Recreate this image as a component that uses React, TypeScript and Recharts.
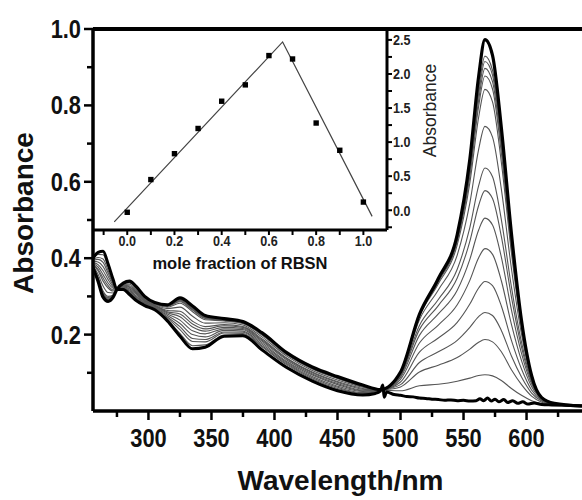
import React from 'react';
import { LineChart, ComposedChart, Line, Scatter, XAxis, YAxis, ReferenceLine } from 'recharts';

// wavelength grid (nm) shared by the titration spectra
const wavelengths = [256, 260, 264, 268, 272, 275, 280, 285, 290, 297, 305, 315, 325, 335, 345, 360, 375, 390, 410, 430, 450, 470, 484, 500, 515, 530, 545, 555, 562, 567, 573, 580, 588, 596, 604, 612, 622, 644];

// final spectrum (thick, highest band at 567 nm)
const finalSpectrum = [0.375, 0.34, 0.298, 0.287, 0.298, 0.318, 0.335, 0.34, 0.327, 0.3, 0.284, 0.278, 0.296, 0.275, 0.25, 0.242, 0.234, 0.205, 0.152, 0.115, 0.09, 0.068, 0.056, 0.102, 0.253, 0.347, 0.462, 0.659, 0.876, 0.972, 0.931, 0.742, 0.465, 0.237, 0.093, 0.035, 0.02, 0.013];

// initial spectrum (thick, no visible band): UV part on the shared grid, noisy visible part on its own grid
const initialUv = [0.4, 0.415, 0.418, 0.385, 0.344, 0.318, 0.318, 0.305, 0.29, 0.276, 0.265, 0.236, 0.196, 0.163, 0.167, 0.196, 0.197, 0.16, 0.113, 0.078, 0.053, 0.042];
const initialVisWl = [480, 484, 486, 487, 489, 495, 500, 505, 510, 515, 520, 525, 530, 535, 540, 545, 550, 555, 560, 563, 566, 569, 572, 575, 578, 582, 585, 589, 593, 597, 601, 606, 612, 620, 630, 644];
const initialVis = [0.046, 0.052, 0.068, 0.036, 0.05, 0.043, 0.041, 0.038, 0.037, 0.034, 0.033, 0.031, 0.03, 0.028, 0.029, 0.027, 0.028, 0.026, 0.027, 0.032, 0.027, 0.034, 0.026, 0.031, 0.024, 0.03, 0.022, 0.027, 0.02, 0.024, 0.018, 0.021, 0.017, 0.016, 0.015, 0.014];

// intermediate spectra (thin grey)
const thinSpectra = [
    [0.398, 0.41, 0.409, 0.378, 0.341, 0.318, 0.319, 0.308, 0.293, 0.278, 0.266, 0.239, 0.203, 0.171, 0.173, 0.199, 0.2, 0.163, 0.116, 0.081, 0.056, 0.044, 0.054, 0.053, 0.066, 0.07, 0.078, 0.086, 0.093, 0.095, 0.092, 0.08, 0.059, 0.041, 0.027, 0.019, 0.016, 0.013],
    [0.396, 0.402, 0.398, 0.368, 0.336, 0.318, 0.321, 0.311, 0.296, 0.28, 0.268, 0.243, 0.213, 0.182, 0.181, 0.204, 0.203, 0.168, 0.12, 0.084, 0.059, 0.046, 0.054, 0.063, 0.102, 0.12, 0.14, 0.162, 0.18, 0.187, 0.181, 0.155, 0.108, 0.069, 0.039, 0.023, 0.016, 0.013],
    [0.394, 0.397, 0.389, 0.361, 0.333, 0.318, 0.322, 0.314, 0.299, 0.282, 0.27, 0.246, 0.221, 0.19, 0.187, 0.207, 0.206, 0.171, 0.123, 0.087, 0.062, 0.048, 0.054, 0.069, 0.127, 0.155, 0.185, 0.219, 0.247, 0.258, 0.25, 0.211, 0.144, 0.089, 0.047, 0.026, 0.017, 0.013],
    [0.392, 0.39, 0.378, 0.353, 0.329, 0.318, 0.324, 0.317, 0.302, 0.284, 0.271, 0.25, 0.229, 0.2, 0.194, 0.211, 0.209, 0.175, 0.126, 0.09, 0.065, 0.051, 0.054, 0.076, 0.154, 0.191, 0.232, 0.28, 0.322, 0.339, 0.328, 0.275, 0.185, 0.11, 0.055, 0.028, 0.017, 0.013],
    [0.389, 0.383, 0.367, 0.344, 0.325, 0.318, 0.325, 0.32, 0.306, 0.286, 0.273, 0.254, 0.238, 0.21, 0.202, 0.215, 0.213, 0.179, 0.129, 0.094, 0.069, 0.053, 0.054, 0.083, 0.178, 0.225, 0.278, 0.342, 0.401, 0.425, 0.41, 0.341, 0.227, 0.132, 0.064, 0.031, 0.018, 0.013],
    [0.387, 0.377, 0.357, 0.335, 0.321, 0.318, 0.327, 0.323, 0.309, 0.288, 0.275, 0.257, 0.247, 0.22, 0.209, 0.219, 0.216, 0.183, 0.133, 0.097, 0.072, 0.055, 0.054, 0.088, 0.198, 0.254, 0.316, 0.397, 0.474, 0.505, 0.487, 0.403, 0.265, 0.151, 0.071, 0.033, 0.019, 0.013],
    [0.385, 0.371, 0.348, 0.328, 0.317, 0.318, 0.328, 0.325, 0.312, 0.29, 0.276, 0.26, 0.254, 0.228, 0.215, 0.223, 0.219, 0.186, 0.136, 0.1, 0.075, 0.057, 0.054, 0.092, 0.213, 0.276, 0.348, 0.444, 0.538, 0.577, 0.556, 0.457, 0.299, 0.167, 0.076, 0.034, 0.019, 0.013],
    [0.384, 0.367, 0.34, 0.322, 0.314, 0.318, 0.329, 0.328, 0.314, 0.292, 0.277, 0.263, 0.261, 0.235, 0.221, 0.226, 0.221, 0.189, 0.138, 0.102, 0.077, 0.059, 0.054, 0.094, 0.224, 0.292, 0.371, 0.48, 0.59, 0.636, 0.613, 0.501, 0.325, 0.18, 0.08, 0.035, 0.019, 0.013],
    [0.381, 0.358, 0.327, 0.31, 0.309, 0.318, 0.331, 0.332, 0.318, 0.294, 0.279, 0.268, 0.272, 0.248, 0.23, 0.231, 0.225, 0.194, 0.143, 0.106, 0.081, 0.062, 0.054, 0.098, 0.239, 0.317, 0.408, 0.544, 0.685, 0.745, 0.717, 0.581, 0.373, 0.201, 0.085, 0.035, 0.019, 0.013],
    [0.378, 0.35, 0.314, 0.3, 0.304, 0.318, 0.333, 0.335, 0.322, 0.297, 0.281, 0.272, 0.282, 0.26, 0.239, 0.236, 0.229, 0.199, 0.147, 0.11, 0.085, 0.064, 0.054, 0.1, 0.248, 0.333, 0.435, 0.597, 0.769, 0.842, 0.809, 0.651, 0.414, 0.217, 0.09, 0.036, 0.02, 0.013],
    [0.377, 0.347, 0.31, 0.297, 0.303, 0.318, 0.333, 0.337, 0.323, 0.298, 0.282, 0.274, 0.286, 0.264, 0.242, 0.237, 0.23, 0.201, 0.148, 0.111, 0.086, 0.065, 0.054, 0.101, 0.25, 0.338, 0.444, 0.614, 0.798, 0.877, 0.843, 0.676, 0.428, 0.223, 0.091, 0.036, 0.02, 0.013],
    [0.377, 0.346, 0.307, 0.295, 0.302, 0.318, 0.334, 0.337, 0.324, 0.298, 0.283, 0.275, 0.288, 0.266, 0.244, 0.238, 0.231, 0.202, 0.149, 0.112, 0.087, 0.066, 0.054, 0.102, 0.251, 0.34, 0.447, 0.624, 0.814, 0.897, 0.862, 0.691, 0.436, 0.226, 0.092, 0.035, 0.02, 0.013],
    [0.376, 0.344, 0.305, 0.293, 0.301, 0.318, 0.334, 0.338, 0.325, 0.299, 0.283, 0.276, 0.29, 0.268, 0.245, 0.239, 0.232, 0.202, 0.15, 0.113, 0.088, 0.066, 0.054, 0.101, 0.252, 0.342, 0.452, 0.633, 0.83, 0.915, 0.879, 0.703, 0.444, 0.229, 0.092, 0.036, 0.02, 0.013],
    [0.376, 0.343, 0.303, 0.291, 0.3, 0.318, 0.334, 0.339, 0.325, 0.299, 0.283, 0.276, 0.292, 0.27, 0.246, 0.24, 0.232, 0.203, 0.15, 0.113, 0.088, 0.067, 0.054, 0.101, 0.252, 0.343, 0.454, 0.639, 0.842, 0.929, 0.892, 0.713, 0.449, 0.231, 0.093, 0.035, 0.02, 0.013],
];

const mainXTicks = [275, 300, 325, 350, 375, 400, 425, 450, 475, 500, 525, 550, 575, 600, 625];
const mainYTicks = [0.1, 0.2, 0.3, 0.4, 0.5, 0.6, 0.7, 0.8, 0.9, 1.0];

// Job's plot inset
const moleFraction = [0, 0.1, 0.2, 0.3, 0.4, 0.5, 0.6, 0.7, 0.8, 0.9, 1.0];
const jobAbsorbance = [-0.03, 0.45, 0.83, 1.2, 1.6, 1.84, 2.27, 2.22, 1.28, 0.88, 0.12];
const fitX = [-0.055, 0.658, 1.037];
const fitY = [-0.17, 2.47, -0.09];
const insetXTicks = [-0.1, 0, 0.1, 0.2, 0.3, 0.4, 0.5, 0.6, 0.7, 0.8, 0.9, 1.0];
const insetYTicks = [-0.25, 0, 0.25, 0.5, 0.75, 1.0, 1.25, 1.5, 1.75, 2.0, 2.25, 2.5];

const sans = '"Liberation Sans", Arial, Helvetica, sans-serif';

const toPoints = (values: number[]) => values.map((v, i) => ({ wl: wavelengths[i], v }));
const initialPoints = [
    ...initialUv.map((v, i) => ({ wl: wavelengths[i], v })),
    ...initialVis.map((v, i) => ({ wl: initialVisWl[i], v })),
];
const jobPoints = moleFraction.map((x, i) => ({ x, y: jobAbsorbance[i] }));
const fitPoints = fitX.map((x, i) => ({ x, y: fitY[i] }));

// narrow-looking tick text: Liberation Sans squeezed horizontally
const NarrowText = ({ x, y, anchor, size, fill, children }: any) => (
    <text
        transform={`translate(${x},${y}) scale(0.84,1)`}
        textAnchor={anchor}
        fontFamily={sans}
        fontWeight="bold"
        fontSize={size}
        fill={fill}
    >
        {children}
    </text>
);

const MainXTick = (props: any) => {
    const { x, y, payload } = props;
    const major = payload.value % 50 === 0;
    return (
        <g>
            <line x1={x} x2={x} y1={y} y2={y + (major ? 9 : 6)} stroke="#000" strokeWidth={2.5} />
            {major && (
                <NarrowText x={x} y={y + 36} anchor="middle" size={26} fill="#111">
                    {payload.value}
                </NarrowText>
            )}
        </g>
    );
};

const MainYTick = (props: any) => {
    const { x, y, payload } = props;
    const major = Math.round(payload.value * 10) % 2 === 0;
    return (
        <g>
            <line x1={x - (major ? 9 : 6)} x2={x} y1={y} y2={y} stroke="#000" strokeWidth={2.5} />
            {major && (
                <NarrowText x={x - 12} y={y + 9} anchor="end" size={26} fill="#111">
                    {payload.value.toFixed(1)}
                </NarrowText>
            )}
        </g>
    );
};

const InsetXTick = (props: any) => {
    const { x, y, payload } = props;
    const tenth = Math.round(payload.value * 10);
    const major = tenth >= 0 && tenth % 2 === 0;
    return (
        <g>
            <line x1={x} x2={x} y1={y} y2={y + 5} stroke="#000" strokeWidth={2} />
            {major && (
                <NarrowText x={x} y={y + 16} anchor="middle" size={15} fill="#222">
                    {payload.value.toFixed(1)}
                </NarrowText>
            )}
        </g>
    );
};

const InsetYTick = (props: any) => {
    const { x, y, payload } = props;
    const quarter = Math.round(payload.value * 4);
    const major = quarter >= 0 && quarter % 2 === 0;
    return (
        <g>
            <line x1={x} x2={x + 5} y1={y} y2={y} stroke="#000" strokeWidth={2} />
            {major && (
                <NarrowText x={x + 6} y={y + 5.3} anchor="start" size={15} fill="#222">
                    {payload.value.toFixed(1)}
                </NarrowText>
            )}
        </g>
    );
};

const JobSquare = (props: any) => (
    <rect x={props.cx - 2.7} y={props.cy - 2.7} width={5.4} height={5.4} fill="#000" />
);

export default function App() {
    return (
        <div style={{ position: 'absolute', left: 0, top: 0, width: 582, height: 500, background: '#fff', overflow: 'hidden' }}>
            <div style={{ position: 'absolute', left: 0, top: 0 }}>
                <LineChart width={582} height={500} margin={{ top: 29, right: 0, bottom: 0, left: 0 }}>
                    <XAxis
                        type="number"
                        dataKey="wl"
                        domain={[256, 644]}
                        allowDataOverflow
                        ticks={mainXTicks}
                        interval={0}
                        height={89}
                        tickSize={0}
                        tickMargin={0}
                        tickLine={false}
                        axisLine={{ stroke: '#000', strokeWidth: 3.5 }}
                        tick={<MainXTick />}
                        label={{
                            content: (p: any) => (
                                <text x={p.viewBox.x + p.viewBox.width / 2 + 3} y={p.viewBox.y + 79} textAnchor="middle" fontFamily={sans} fontWeight="bold" fontSize={28} fill="#111">
                                    Wavelength/nm
                                </text>
                            ),
                        }}
                    />
                    <YAxis
                        type="number"
                        domain={[0, 1]}
                        allowDataOverflow
                        ticks={mainYTicks}
                        interval={0}
                        width={93}
                        tickSize={0}
                        tickMargin={0}
                        tickLine={false}
                        axisLine={{ stroke: '#000', strokeWidth: 3.5 }}
                        tick={<MainYTick />}
                        label={{
                            content: (p: any) => {
                                const cy = p.viewBox.y + p.viewBox.height / 2 - 7;
                                return (
                                    <text x={33} y={cy} transform={`rotate(-90, 33, ${cy})`} textAnchor="middle" fontFamily={sans} fontWeight="bold" fontSize={28} fill="#111">
                                        Absorbance
                                    </text>
                                );
                            },
                        }}
                    />
                    <ReferenceLine y={1} stroke="#000" strokeWidth={4} />
                    {thinSpectra.map((s, i) => (
                        <Line
                            key={`thin-${i}`}
                            data={toPoints(s)}
                            dataKey="v"
                            type="monotone"
                            stroke="#555"
                            strokeWidth={1.1}
                            dot={false}
                            activeDot={false}
                            isAnimationActive={false}
                        />
                    ))}
                    <Line data={initialPoints} dataKey="v" type="monotone" stroke="#000" strokeWidth={3} dot={false} activeDot={false} isAnimationActive={false} />
                    <Line data={toPoints(finalSpectrum)} dataKey="v" type="monotone" stroke="#000" strokeWidth={3.2} dot={false} activeDot={false} isAnimationActive={false} />
                </LineChart>
            </div>
            <div style={{ position: 'absolute', left: 0, top: 0 }}>
                <ComposedChart width={450} height={280} margin={{ top: 29, right: 0, bottom: 0, left: 93 }}>
                    <XAxis
                        type="number"
                        dataKey="x"
                        domain={[-0.145, 1.1]}
                        allowDataOverflow
                        ticks={insetXTicks}
                        interval={0}
                        height={50}
                        tickSize={0}
                        tickMargin={0}
                        tickLine={false}
                        axisLine={{ stroke: '#000', strokeWidth: 3 }}
                        tick={<InsetXTick />}
                        label={{
                            content: (p: any) => (
                                <text x={p.viewBox.x + p.viewBox.width / 2} y={p.viewBox.y + 38.5} textAnchor="middle" fontFamily={sans} fontWeight="bold" fontSize={16.5} fill="#111">
                                    mole fraction of RBSN
                                </text>
                            ),
                        }}
                    />
                    <YAxis
                        type="number"
                        orientation="right"
                        domain={[-0.29, 2.66]}
                        allowDataOverflow
                        ticks={insetYTicks}
                        interval={0}
                        width={63}
                        tickSize={0}
                        tickMargin={0}
                        tickLine={false}
                        axisLine={{ stroke: '#000', strokeWidth: 3 }}
                        tick={<InsetYTick />}
                        label={{
                            content: (p: any) => {
                                const cx = p.viewBox.x + 49;
                                const cy = p.viewBox.y + p.viewBox.height / 2 - 19;
                                return (
                                    <text x={cx} y={cy} transform={`rotate(-90, ${cx}, ${cy})`} textAnchor="middle" fontFamily={sans} fontSize={17.5} fill="#222">
                                        Absorbance
                                    </text>
                                );
                            },
                        }}
                    />
                    <Line data={fitPoints} dataKey="y" type="linear" stroke="#444" strokeWidth={1.2} dot={false} activeDot={false} isAnimationActive={false} />
                    <Scatter data={jobPoints} dataKey="y" fill="#000" shape={<JobSquare />} isAnimationActive={false} />
                </ComposedChart>
            </div>
        </div>
    );
}
